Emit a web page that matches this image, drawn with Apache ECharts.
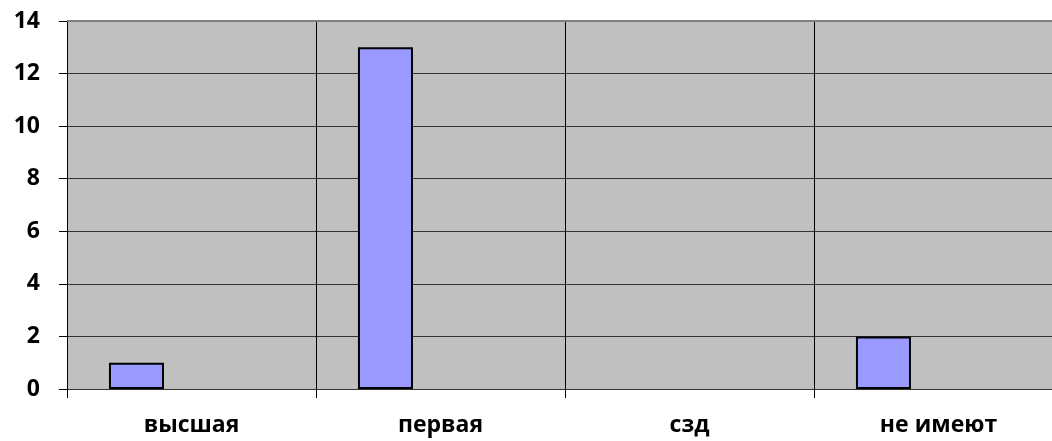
<!DOCTYPE html>
<html>
<head>
<meta charset="utf-8">
<script src="https://cdn.jsdelivr.net/npm/echarts@6/dist/echarts.min.js"></script>
<style>
  html, body { margin: 0; padding: 0; background: #fff; }
  #chart { width: 1052px; height: 441px; }
</style>
</head>
<body>
<div id="chart"></div>
<script>
let categories = ["высшая", "первая", "сзд", "не имеют"],
  values = [1, 13, 0, 2],
  emptyValues = [null, null, null, null],
  yTicks = [0, 2, 4, 6, 8, 10, 12, 14];

let chart = echarts.init(document.getElementById("chart"));
let font = "'Open Sans', 'Noto Sans', sans-serif";

// zero bars are not outlined in the original
let barData = values.map(v => v === 0 ? { value: v, itemStyle: { borderWidth: 0 } } : v);

chart.setOption({
  animation: false,
  grid: {
    left: 67, width: 996, top: 21, height: 368,
    outerBoundsMode: "none",
    backgroundColor: "#C0C0C0", show: true, borderWidth: 0
  },
  xAxis: {
    type: "category",
    data: categories,
    boundaryGap: true,
    axisLine: { lineStyle: { color: "#333", width: 1 } },
    axisTick: { show: true, length: 9, lineStyle: { color: "#000" } },
    splitLine: { show: true, lineStyle: { color: "#000", width: 1 } },
    axisLabel: { color: "#000", fontFamily: font, fontWeight: "bold", fontSize: 23, margin: 25 }
  },
  yAxis: {
    type: "value",
    min: 0,
    max: yTicks[yTicks.length - 1],
    interval: 2,
    axisLine: { show: true, lineStyle: { color: "#000", width: 1 } },
    axisTick: { show: true, length: 8, lineStyle: { color: "#000" } },
    splitLine: { show: true, lineStyle: { color: "#333", width: 1 } },
    axisLabel: { color: "#000", fontFamily: font, fontWeight: "bold", fontSize: 23, margin: 27 }
  },
  series: [
    {
      type: "bar",
      data: barData,
      barGap: "0%",
      barCategoryGap: "33.7%",
      itemStyle: { color: "#9999FF", borderColor: "#000", borderWidth: 2 }
    },
    { type: "bar", data: emptyValues },
    { type: "bar", data: emptyValues }
  ],
  graphic: [
    { type: "line", shape: { x1: 67, y1: 21, x2: 1052, y2: 21 }, style: { stroke: "#808080", lineWidth: 2 }, z: 10 }
  ]
});
</script>
</body>
</html>
